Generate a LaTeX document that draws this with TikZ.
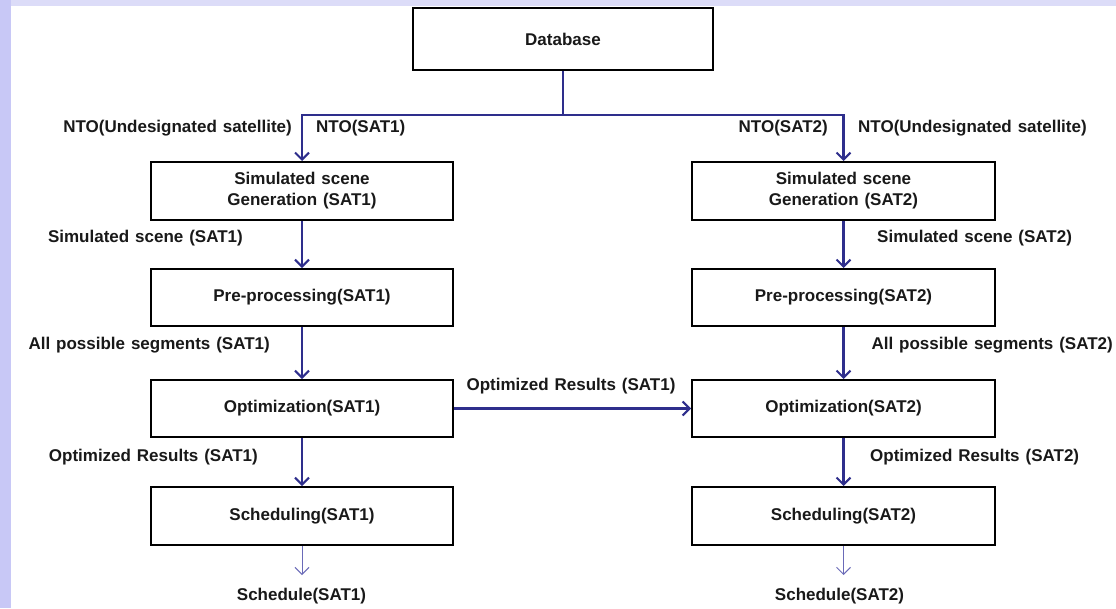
\documentclass[tikz,border=0pt]{standalone}
\usepackage{fontspec}
\setmainfont{Liberation Sans}[WordSpace=1.25]
\usetikzlibrary{arrows.meta}
\definecolor{navy}{HTML}{2E2E8C}
\definecolor{thinblue}{HTML}{6A6AB8}
\definecolor{lavL}{HTML}{C8C8F6}
\definecolor{lavT}{HTML}{DCDCF8}
\tikzset{
  box/.style={draw=black, line width=2pt, fill=white, inner sep=0pt, align=center,
              font=\bfseries\fontsize{17}{21}\selectfont, text=black!90},
  lbl/.style={inner sep=0pt, font=\bfseries\fontsize{17}{21}\selectfont, text=black!90},
  flow/.style={draw=navy, line width=2.4pt, -{Straight Barb[length=7pt,width=14pt,line width=2pt]}},
  plain/.style={draw=navy, line width=2.4pt},
  thinflow/.style={draw=thinblue, line width=1pt, -{Straight Barb[length=7pt,width=14pt,line width=1pt]}}
}
\begin{document}
\begin{tikzpicture}[x=1pt,y=-1pt]
\useasboundingbox (0,0) rectangle (1116,608);
\fill[white] (0,0) rectangle (1116,608);
\fill[lavT] (0,0) rectangle (1116,6);
\fill[lavL] (0,0) rectangle (11,608);

% boxes
\node[box, minimum width=300pt, minimum height=62pt] (db) at (563,39) {Database};
\node[box, minimum width=302pt, minimum height=58pt] (g1) at (302,191) {Simulated scene\\Generation (SAT1)};
\node[box, minimum width=303pt, minimum height=58pt] (g2) at (843.5,191) {Simulated scene\\Generation (SAT2)};
\node[box, minimum width=302pt, minimum height=57pt] (p1) at (302,297.5) {Pre-processing(SAT1)};
\node[box, minimum width=303pt, minimum height=57pt] (p2) at (843.5,297.5) {Pre-processing(SAT2)};
\node[box, minimum width=302pt, minimum height=57pt] (o1) at (302,408.5) {Optimization(SAT1)};
\node[box, minimum width=303pt, minimum height=57pt] (o2) at (843.5,408.5) {Optimization(SAT2)};
\node[box, minimum width=302pt, minimum height=58pt] (c1) at (302,516) {Scheduling(SAT1)};
\node[box, minimum width=303pt, minimum height=58pt] (c2) at (843.5,516) {Scheduling(SAT2)};

% outputs
\node[lbl] (r1) at (301.5,596) {Schedule(SAT1)};
\node[lbl] (r2) at (839.5,596) {Schedule(SAT2)};
\coordinate (e1) at (c1.south |- 0,575);
\coordinate (e2) at (c2.south |- 0,575);

% connectors
\coordinate (j) at (563,115);
\draw[plain] (db.south) -- (j);
\draw[flow] (j) -| (g1.north);
\draw[flow] (j) -| (g2.north);
\draw[flow] (g1) -- (p1);
\draw[flow] (g2) -- (p2);
\draw[flow] (p1) -- (o1);
\draw[flow] (p2) -- (o2);
\draw[flow] (o1) -- (c1);
\draw[flow] (o2) -- (c2);
\draw[flow] (o1.east) -- (o2.west);
\draw[thinflow] (c1.south) -- (e1);
\draw[thinflow] (c2.south) -- (e2);

% labels
\node[lbl, anchor=east] (la) at (292,128) {NTO(Undesignated satellite)};
\node[lbl, anchor=west] (lb) at (316,128) {NTO(SAT1)};
\node[lbl, anchor=east] (lc) at (828,128) {NTO(SAT2)};
\node[lbl, anchor=west] (ld) at (858,128) {NTO(Undesignated satellite)};
\node[lbl, anchor=east] (le) at (243,238) {Simulated scene (SAT1)};
\node[lbl, anchor=west] (lf) at (877,238) {Simulated scene (SAT2)};
\node[lbl, anchor=east] (lg) at (270,345) {All possible segments (SAT1)};
\node[lbl, anchor=east] (lh) at (1113,345) {All possible segments (SAT2)};
\node[lbl] (li) at (571,386) {Optimized Results (SAT1)};
\node[lbl, anchor=east] (lj) at (258,457) {Optimized Results (SAT1)};
\node[lbl, anchor=west] (lk) at (870,457) {Optimized Results (SAT2)};
\end{tikzpicture}
\end{document}
